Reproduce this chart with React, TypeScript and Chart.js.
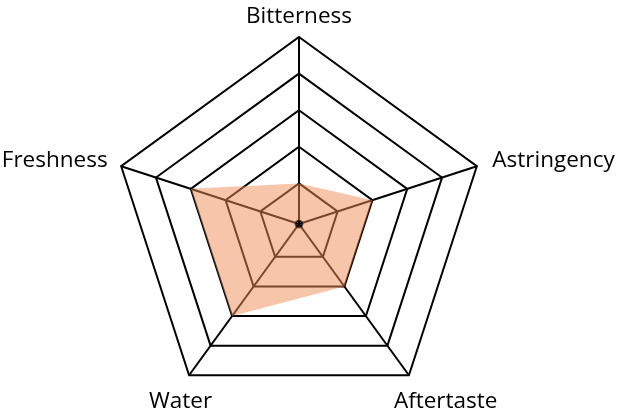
import React, { useEffect, useRef } from "react";
import { Chart, registerables } from "chart.js";

Chart.register(...registerables);

const categories = ["Bitterness", "Astringency", "Aftertaste", "Water", "Freshness"];
const seriesValues = [1, 2, 2, 3, 3];
const tickValues = [0, 1, 2, 3, 4, 5];

const LABEL_FONT = "22.5px 'Open Sans'";
// per-label placement relative to the outer vertex: [dx, dy, align]
const labelPlacement: [number, number, CanvasTextAlign][] = [
  [0, -14, "center"],
  [15.5, 0.5, "left"],
  [-15, 32.5, "left"],
  [23, 32.5, "right"],
  [-13.5, 0.5, "right"],
];

const pointLabelPlugin = {
  id: "customPointLabels",
  afterDraw(chart: any) {
    const scale = chart.scales.r;
    const ctx = chart.ctx as CanvasRenderingContext2D;
    const labels = chart.data.labels as string[];
    ctx.save();
    ctx.font = LABEL_FONT;
    ctx.fillStyle = "#000000";
    ctx.textBaseline = "alphabetic";
    labels.forEach((label, i) => {
      const p = scale.getPointPosition(i, scale.drawingArea);
      const [dx, dy, align] = labelPlacement[i];
      ctx.textAlign = align;
      ctx.fillText(label, p.x + dx, p.y + dy);
    });
    ctx.restore();
  },
};

export default function App() {
  const canvasRef = useRef<HTMLCanvasElement | null>(null);

  useEffect(() => {
    if (!canvasRef.current) return;
    const chart = new Chart(canvasRef.current, {
      type: "radar",
      data: {
        labels: categories,
        datasets: [
          {
            label: "Series",
            data: seriesValues,
            backgroundColor: "rgba(237,140,85,0.5)",
            borderWidth: 0,
            borderColor: "rgba(0,0,0,0)",
            pointRadius: 0,
            fill: true,
          },
        ],
      },
      options: {
        responsive: false,
        animation: false,
        layout: { padding: { top: 37, bottom: 4, left: 0, right: 24 } },
        plugins: { legend: { display: false }, tooltip: { enabled: false } },
        scales: {
          r: {
            min: -0.11,
            max: 5,
            afterBuildTicks: (scale: any) => {
              scale.ticks = tickValues.map((v) => ({ value: v }));
            },
            ticks: { display: false },
            grid: { color: "#000000", lineWidth: 2, circular: false },
            angleLines: { color: "#000000", lineWidth: 2 },
            pointLabels: { display: false },
          },
        },
      },
      plugins: [pointLabelPlugin],
    });
    return () => chart.destroy();
  }, []);

  return (
    <div style={{ position: "fixed", left: 0, top: 0, width: 622, height: 416, background: "#fff" }}>
      <canvas ref={canvasRef} width={622} height={416} style={{ display: "block" }} />
    </div>
  );
}
